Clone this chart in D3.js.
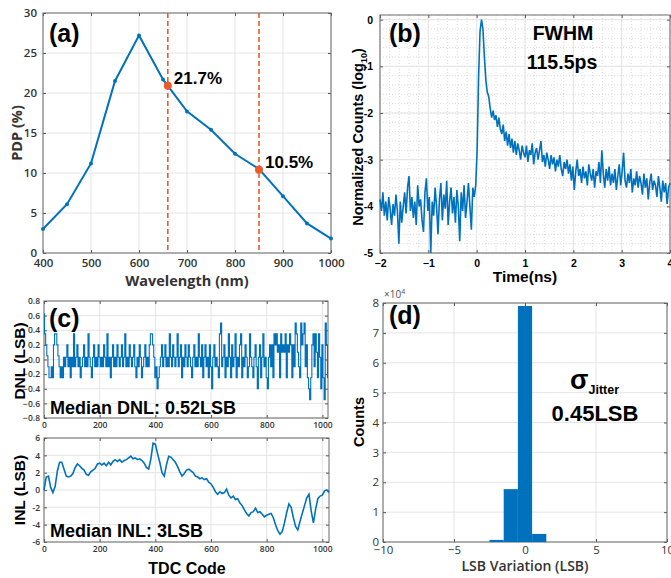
<!DOCTYPE html>
<html>
<head>
<meta charset="utf-8">
<script src="https://cdn.jsdelivr.net/npm/d3@7"></script>
<style>
  body { margin: 0; background: #fff; }
  text { font-family: "Liberation Sans", Arial, sans-serif; }
  .soft text { font-family: "Open Sans", sans-serif; }
</style>
</head>
<body>
<div class="container"></div>
<script>
// ---- (a) PDP vs wavelength
const wavelengths = [400, 450, 500, 550, 600, 650, 700, 750, 800, 850, 900, 950, 1000];
const pdp = [3.0, 6.1, 11.2, 21.5, 27.2, 21.7, 17.7, 15.4, 12.4, 10.5, 7.1, 3.7, 1.8];
const markWave = [660, 850];
const markPdp = [20.9, 10.4];
const markLabels = ['21.7%', '10.5%'];

// ---- (b) timing response, log10 counts, sampled every 0.03 ns from -2 ns
const tStart = -2, tStep = 0.03;
const logCounts = [
  -3.85,-4.1,-3.7,-4.2,-3.9,-4.3,-3.8,-4.05,-4.4,-3.95,
  -4.2,-3.75,-4.1,-4.8,-3.9,-4.35,-4.0,-3.7,-4.15,-3.6,
  -3.35,-4.1,-3.8,-4.25,-3.9,-4.4,-3.55,-4.0,-3.85,-4.3,
  -4.55,-3.7,-3.4,-4.1,-3.8,-5.0,-3.9,-4.2,-3.6,-4.0,
  -4.6,-3.85,-3.5,-4.3,-3.75,-4.05,-3.45,-4.4,-3.9,-3.6,
  -4.15,-3.8,-4.35,-3.65,-4.0,-4.75,-3.7,-4.1,-3.55,-4.25,
  -3.9,-3.5,-4.0,-4.5,-3.6,-3.8,-3.55,
  -2.8,-1.2,-0.25,0,-0.2,-0.8,-1.3,-1.55,-1.65,-1.9,-2.1,-1.95,-2.15,
  -2.05,-2.3,-2.1,-2.35,-2.45,-2.25,-2.6,-2.4,-2.7,-2.45,
  -2.75,-2.55,-2.85,-2.6,-2.9,-2.65,-2.8,-3.0,-2.7,-2.85,
  -2.95,-2.7,-3.05,-2.8,-2.9,-2.65,-3.1,-2.85,-2.75,-3.0,
  -2.8,-2.6,-3.05,-2.9,-3.15,-2.85,-3.0,-3.2,-2.9,-3.1,
  -2.95,-3.25,-3.0,-3.15,-2.9,-3.2,-3.35,-3.05,-3.2,-3.0,
  -3.3,-3.1,-3.45,-3.15,-3.65,-3.25,-3.0,-3.35,-3.2,-3.5,
  -3.15,-3.4,-3.25,-3.55,-3.1,-3.3,-3.45,-3.2,-3.6,-3.25,
  -3.35,-3.05,-3.5,-2.8,-3.3,-3.6,-3.2,-3.45,-3.15,-3.55,
  -3.3,-3.5,-3.2,-3.65,-3.35,-3.1,-3.55,-3.25,-2.85,-3.45,
  -3.6,-3.3,-3.5,-3.2,-3.7,-3.4,-3.55,-3.25,-3.6,-3.35,
  -3.5,-3.75,-3.3,-3.6,-3.4,-3.85,-3.5,-3.3,-3.65,-3.45,
  -3.55,-3.8,-3.35,-3.6,-3.9,-3.45,-3.7,-3.5,-3.95,-3.6,
  -3.5
];

// ---- (c) DNL every 4 codes, INL every 8 codes
const dnlStep = 4;
const dnl = [
  0.62,0.35,0.2,0.05,-0.1,-0.25,-0.25,-0.1,-0.25,0.2,0.35,0.35,0.2,0.05,-0.1,-0.25,
  -0.1,-0.25,0.03,-0.1,0.03,0.2,-0.1,0.03,-0.25,0.03,-0.1,0.35,-0.1,0.03,0.2,-0.1,
  0.03,-0.25,-0.1,0.03,0.2,-0.1,0.03,-0.1,0.35,0.03,-0.1,-0.25,0.03,0.2,-0.1,0.03,
  -0.1,0.2,0.03,-0.1,0.03,-0.1,0.2,0.03,-0.1,0.35,-0.1,0.03,-0.25,0.03,0.2,-0.1,
  0.03,-0.1,0.2,0.03,-0.1,0.03,0.2,-0.1,0.03,0.35,-0.1,0.03,-0.1,0.2,0.03,-0.1,
  0.03,0.2,-0.1,-0.25,0.03,-0.1,0.2,0.03,-0.25,-0.1,0.03,0.2,-0.1,0.03,-0.1,0.2,
  0.35,0.35,0.2,0.03,-0.25,-0.1,-0.4,-0.25,-0.1,0.03,0.2,-0.1,0.03,0.2,-0.1,0.03,
  -0.1,0.35,0.03,-0.1,0.2,0.03,-0.1,0.03,0.35,-0.1,0.03,0.2,-0.25,0.03,-0.1,0.2,
  0.03,-0.1,0.2,0.03,-0.1,-0.25,0.03,0.2,-0.1,0.03,-0.1,0.35,0.03,-0.1,0.2,-0.25,
  0.03,0.2,-0.1,0.03,-0.25,0.2,-0.1,-0.4,0.03,0.2,-0.1,0.03,-0.1,-0.25,0.35,0.5,
  -0.1,0.03,0.2,-0.25,0.03,-0.1,0.35,0.03,-0.25,0.2,-0.1,0.03,0.35,-0.25,0.03,-0.1,
  0.2,0.35,-0.25,0.03,-0.1,0.2,0.03,-0.25,-0.1,0.35,0.03,-0.1,-0.25,0.03,0.2,-0.1,
  -0.4,0.03,0.2,-0.25,0.03,0.35,-0.1,0.03,-0.25,-0.4,0.03,0.2,-0.1,0.2,-0.25,0.35,
  0.2,0.35,0.1,0.2,-0.25,0.35,0.1,0.2,0.1,0.35,-0.25,0.2,0.1,0.35,0.2,-0.25,
  0.2,-0.1,0.5,0.35,0.1,-0.1,-0.25,0.5,0.2,0.35,0.5,-0.1,0.2,-0.25,-0.4,-0.55,
  -0.25,0.2,0.35,-0.1,0.35,0.1,-0.25,0.35,0.03,-0.4,0.2,-0.25,-0.55,0.5,0.2,-0.25
];
const inlStep = 8;
const inl = [
  0.0,1.5,1.6,0.3,-0.3,0.4,2.2,3.2,3.2,2.4,1.6,1.5,1.6,1.9,2.6,3.0,
  2.8,2.5,2.3,1.8,1.7,2.1,2.3,2.5,3.0,3.1,2.9,3.1,2.8,3.2,2.9,3.3,
  3.5,3.3,3.5,3.2,3.4,3.5,3.7,3.9,3.6,3.7,3.5,3.6,3.4,3.1,2.6,2.4,
  3.6,5.4,5.3,4.2,3.2,2.0,1.6,2.9,3.9,3.8,3.5,3.2,2.7,2.1,1.6,1.9,
  2.3,2.4,2.2,2.0,1.6,1.5,1.3,1.4,1.2,1.3,0.9,0.7,0.3,-0.2,-0.5,-0.2,
  -0.4,-0.3,0.1,-0.6,-0.9,-0.7,-1.1,-1.0,-1.5,-1.8,-2.3,-2.7,-3.0,-2.6,-2.5,-2.1,
  -2.6,-2.5,-2.8,-3.1,-2.9,-2.8,-2.7,-3.2,-4.0,-4.7,-5.1,-4.8,-3.8,-2.6,-1.6,-2.0,
  -3.2,-4.2,-4.6,-3.6,-2.7,-1.8,-0.9,-0.5,-2.4,-3.8,-2.2,-1.0,-0.7,-0.6,-0.1,0.0,
  -0.3
];

// ---- (d) jitter histogram (bin centres, counts)
const binCenters = [-2, -1, 0, 1];
const binCounts = [700, 17700, 79000, 2700];

const blue = '#0072BD';
const red = '#EA5A2A';
const width = 671, height = 578;

const svg = d3.select('.container').append('svg')
  .attr('width', width).attr('height', height);

// draws grid, inner ticks, frame, tick labels; returns scales
function panel(c) {
  const x = d3.scaleLinear().domain(c.xd).range([c.l, c.r]);
  const y = d3.scaleLinear().domain(c.yd).range([c.b, c.t]);
  const g = svg.append('g').attr('class', c.cls || '');
  const h = c.b - c.t, w = c.r - c.l;
  const pad = c.pad || 5;

  if (c.xminor) {
    g.append('g').selectAll('line').data(c.xminor).join('line')
      .attr('x1', d => x(d)).attr('x2', d => x(d)).attr('y1', c.t).attr('y2', c.b)
      .attr('stroke', '#dcdcdc').attr('stroke-dasharray', '1,2');
    g.append('g').selectAll('line').data(c.yminor).join('line')
      .attr('y1', d => y(d)).attr('y2', d => y(d)).attr('x1', c.l).attr('x2', c.r)
      .attr('stroke', '#dcdcdc').attr('stroke-dasharray', '1,2');
  }
  g.append('g').selectAll('line').data(c.xt).join('line')
    .attr('x1', d => x(d)).attr('x2', d => x(d)).attr('y1', c.t).attr('y2', c.b)
    .attr('stroke', '#e4e4e4');
  g.append('g').selectAll('line').data(c.yt).join('line')
    .attr('y1', d => y(d)).attr('y2', d => y(d)).attr('x1', c.l).attr('x2', c.r)
    .attr('stroke', '#e4e4e4');

  const style = sel => {
    sel.select('.domain').remove();
    sel.selectAll('line').attr('stroke', '#555');
    sel.selectAll('text')
      .style('font-size', c.fs + 'px')
      .style('font-weight', c.fw)
      .attr('fill', c.tc);
  };
  const tick = 3;
  g.append('g').attr('transform', `translate(0,${c.b})`)
    .call(d3.axisBottom(x).tickValues(c.xt).tickSize(-tick).tickPadding(tick + pad)
      .tickFormat(c.xf || d3.format('d')))
    .call(style);
  g.append('g').attr('transform', `translate(${c.l},0)`)
    .call(d3.axisLeft(y).tickValues(c.yt).tickSize(-tick).tickPadding(tick + pad)
      .tickFormat(c.yf || (d => d)))
    .call(style);
  g.append('g').attr('transform', `translate(0,${c.t})`)
    .call(d3.axisTop(x).tickValues(c.xt).tickSize(-tick).tickFormat(''))
    .call(style);
  g.append('g').attr('transform', `translate(${c.r},0)`)
    .call(d3.axisRight(y).tickValues(c.yt).tickSize(-tick).tickFormat(''))
    .call(style);

  g.append('rect').attr('x', c.l).attr('y', c.t).attr('width', w).attr('height', h)
    .attr('fill', 'none').attr('stroke', '#6b6b6b').attr('stroke-width', 1);
  return { x, y, g };
}

function label(txt, x, y, size, opts = {}) {
  const t = svg.append('text').attr('x', x).attr('y', y)
    .attr('text-anchor', opts.anchor || 'start')
    .style('font-size', size + 'px')
    .style('font-weight', opts.weight || 'bold')
    .style('font-family', opts.family || null)
    .attr('fill', opts.fill || '#000')
    .text(txt);
  if (opts.rotate) t.attr('transform', `rotate(-90,${x},${y})`);
  return t;
}

// ================= (a)
{
  const { x, y, g } = panel({
    l: 43, r: 331, t: 13, b: 253, xd: [400, 1000], yd: [0, 30],
    xt: d3.range(400, 1001, 100), yt: d3.range(0, 31, 5),
    fs: 11.5, fw: 600, tc: '#333', cls: 'soft', pad: 3
  });
  g.append('path').datum(wavelengths.map((w, i) => [w, pdp[i]]))
    .attr('fill', 'none').attr('stroke', blue).attr('stroke-width', 2)
    .attr('d', d3.line().x(d => x(d[0])).y(d => y(d[1])));
  g.selectAll('circle.pt').data(wavelengths).join('circle')
    .attr('cx', d => x(d)).attr('cy', (d, i) => y(pdp[i])).attr('r', 2)
    .attr('fill', blue);
  g.selectAll('line.mk').data(markWave).join('line')
    .attr('x1', d => x(d)).attr('x2', d => x(d)).attr('y1', y(30)).attr('y2', y(0))
    .attr('stroke', red).attr('stroke-width', 1.6).attr('stroke-dasharray', '5,3');
  g.selectAll('circle.mk').data(markWave).join('circle')
    .attr('cx', d => x(d)).attr('cy', (d, i) => y(markPdp[i])).attr('r', 4)
    .attr('fill', red);
  markWave.forEach((w, i) => label(markLabels[i], x(w) + 6, y(markPdp[i]) - 2, 17));
  label('(a)', 49, 42, 25);
  label('Wavelength (nm)', 187, 286, 14.5, { anchor: 'middle', family: 'Open Sans', fill: '#333' });
  label('PDP (%)', 22, 133, 14.5, { anchor: 'middle', rotate: true, family: 'Open Sans', fill: '#333' });
}

// ================= (b)
{
  const { x, y, g } = panel({
    l: 380, r: 670, t: 15, b: 253, xd: [-2, 4], yd: [-5, 0.1],
    xt: d3.range(-2, 5, 1), yt: d3.range(-5, 1, 1),
    xminor: d3.range(-2, 4.01, 0.2), yminor: d3.range(-5, 0.05, 0.2),
    fs: 10.5, fw: 'bold', tc: '#000', pad: 4
  });
  g.append('path').datum(logCounts)
    .attr('fill', 'none').attr('stroke', blue).attr('stroke-width', 1.6)
    .attr('d', d3.line().x((d, i) => x(tStart + i * tStep)).y(d => y(d)));
  label('(b)', 389, 42, 25);
  label('FWHM', 563, 40, 19.5, { anchor: 'middle' });
  label('115.5ps', 562, 69, 19.5, { anchor: 'middle' });
  label('Time(ns)', 525, 282, 15.5, { anchor: 'middle' });
  const ylab = label('Normalized Counts (log', 363, 137, 14.5, { anchor: 'middle', rotate: true });
  ylab.append('tspan').attr('dy', 4).style('font-size', '9px').text('10');
  ylab.append('tspan').attr('dy', -4).text(')');
}

// ================= (c)
{
  const top = panel({
    l: 44, r: 328, t: 301, b: 418, xd: [0, 1020], yd: [-0.8, 0.8],
    xt: d3.range(0, 1001, 200), yt: d3.range(-8, 9, 2).map(d => d / 10),
    yf: d3.format('.1f'), fs: 8.5, fw: 600, tc: '#333', cls: 'soft', pad: 1
  });
  top.g.append('path').datum(dnl)
    .attr('fill', 'none').attr('stroke', blue).attr('stroke-width', 1.1)
    .attr('d', d3.line().curve(d3.curveStep)
      .x((d, i) => top.x(i * dnlStep)).y(d => top.y(d)));

  const bot = panel({
    l: 44, r: 329, t: 438, b: 542, xd: [0, 1024], yd: [-6, 6],
    xt: d3.range(0, 1001, 200), yt: d3.range(-6, 7, 2),
    fs: 8.5, fw: 600, tc: '#333', cls: 'soft', pad: 1
  });
  bot.g.append('path').datum(inl)
    .attr('fill', 'none').attr('stroke', blue).attr('stroke-width', 1.6)
    .attr('d', d3.line().x((d, i) => bot.x(i * inlStep)).y(d => bot.y(d)));

  label('(c)', 49, 327, 25);
  label('Median DNL: 0.52LSB', 50, 414, 18);
  label('Median INL: 3LSB', 50, 537, 18);
  label('DNL (LSB)', 25, 361, 15.5, { anchor: 'middle', rotate: true });
  label('INL (LSB)', 25, 490, 15.5, { anchor: 'middle', rotate: true });
  label('TDC Code', 187, 574, 16, { anchor: 'middle' });
}

// ================= (d)
{
  const { x, y, g } = panel({
    l: 383, r: 667, t: 303, b: 542, xd: [-10, 10], yd: [0, 80000],
    xt: [-10, -5, 0, 5, 10], yt: d3.range(0, 80001, 10000),
    yf: d => d / 10000, fs: 11.5, fw: 400, tc: '#333', cls: 'soft', pad: 1
  });
  g.selectAll('rect.bar').data(binCenters).join('rect')
    .attr('x', d => x(d - 0.5)).attr('width', d => x(d + 0.5) - x(d - 0.5))
    .attr('y', (d, i) => y(binCounts[i])).attr('height', (d, i) => y(0) - y(binCounts[i]))
    .attr('fill', blue);
  const mult = label('\u00d710', 384, 298, 10, { weight: 400, family: 'Open Sans', fill: '#555' });
  mult.append('tspan').attr('dy', -4).style('font-size', '7px').text('4');
  label('(d)', 389, 324, 25);
  const sig = label('\u03c3', 570, 389, 27);
  sig.append('tspan').attr('dy', 5).style('font-size', '12.5px').text('Jitter');
  label('0.45LSB', 595, 421, 22, { anchor: 'middle' });
  label('Counts', 364, 422, 14.5, { anchor: 'middle', rotate: true });
  label('LSB Variation (LSB)', 525, 571, 14, { anchor: 'middle', family: 'Open Sans', fill: '#333', weight: 600 });
}
</script>
</body>
</html>
